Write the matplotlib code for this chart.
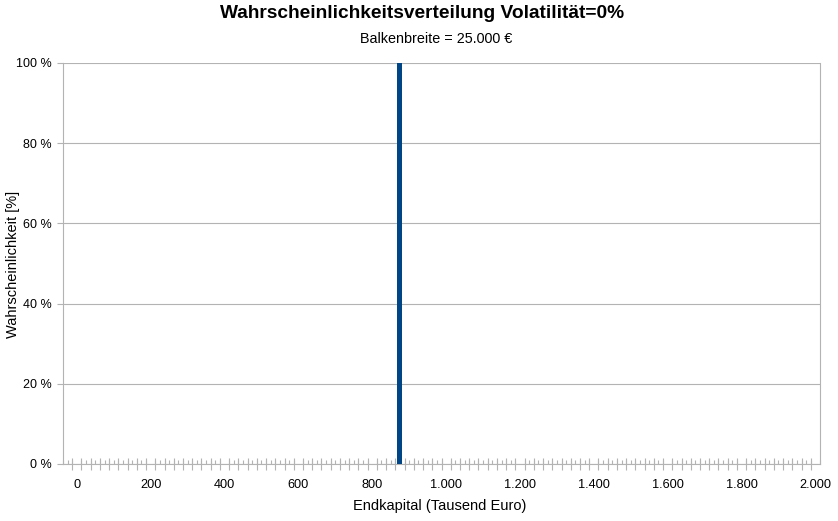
import numpy as np
import matplotlib
matplotlib.use('Agg')
import matplotlib.pyplot as plt
from matplotlib.ticker import FuncFormatter, MultipleLocator

plt.rcParams['font.family'] = ['Liberation Sans', 'DejaVu Sans']

# Histogram data (only non-empty bins), bin width 25 (Tausend Euro)
bin_width = 25
endkapital = [875]
wahrscheinlichkeit = [100.0]

x_min, x_max = -37.5, 2012.5
x_ticks = [0, 200, 400, 600, 800, 1000, 1200, 1400, 1600, 1800, 2000]
y_ticks = [0, 20, 40, 60, 80, 100]

grey = '#b3b3b3'

fig = plt.figure(figsize=(8.38, 5.21), dpi=100)
ax = fig.add_axes([63 / 838, 1 - 464 / 521, (820 - 63) / 838, (464 - 63) / 521])

ax.bar(endkapital, wahrscheinlichkeit, width=bin_width * 0.55, color='#004586', zorder=3)

ax.set_xlim(x_min, x_max)
ax.set_ylim(0, 100)

ax.set_yticks(y_ticks)
ax.yaxis.set_major_formatter(FuncFormatter(lambda v, p: f'{v:.0f} %'))
ax.grid(axis='y', color=grey, linewidth=0.8, zorder=0)

# x: labels every 200, short ticks at bin centers, crossing ticks at bin boundaries
ax.set_xticks(x_ticks)
ax.set_xticklabels([f'{t:,}'.replace(',', '.') for t in x_ticks])
ax.tick_params(axis='x', which='major', length=0, labelsize=9.2, pad=11)
ax.xaxis.set_minor_locator(MultipleLocator(12.5))
ax.tick_params(axis='x', which='minor', direction='in', length=3, color=grey, width=0.8)
bounds = np.arange(x_min + bin_width, x_max, bin_width)
sec = ax.secondary_xaxis('bottom')
sec.set_xticks(bounds)
sec.set_xticklabels([])
sec.tick_params(direction='inout', length=9, color=grey, width=0.8)
sec.spines['bottom'].set_visible(False)

ax.tick_params(axis='y', length=4, color=grey, width=0.8, labelsize=9, pad=4)

for s in ['left', 'right', 'bottom']:
    ax.spines[s].set_color(grey)
    ax.spines[s].set_linewidth(0.8)
ax.spines['top'].set_visible(False)

fig.text(440 / 838, 1 - 506 / 521, 'Endkapital (Tausend Euro)', ha='center', va='center', fontsize=10.5)
fig.text(13 / 838, 1 - 264 / 521, 'Wahrscheinlichkeit [%]', ha='center', va='center',
         rotation=90, fontsize=10.5)

fig.text(422 / 838, 1 - 13 / 521, 'Wahrscheinlichkeitsverteilung Volatilität=0%',
         ha='center', va='center', fontsize=13.8, fontweight='bold')
fig.text(436 / 838, 1 - 39 / 521, 'Balkenbreite = 25.000 €', ha='center', va='center', fontsize=10.4)

fig.savefig('out.png', dpi=100)
